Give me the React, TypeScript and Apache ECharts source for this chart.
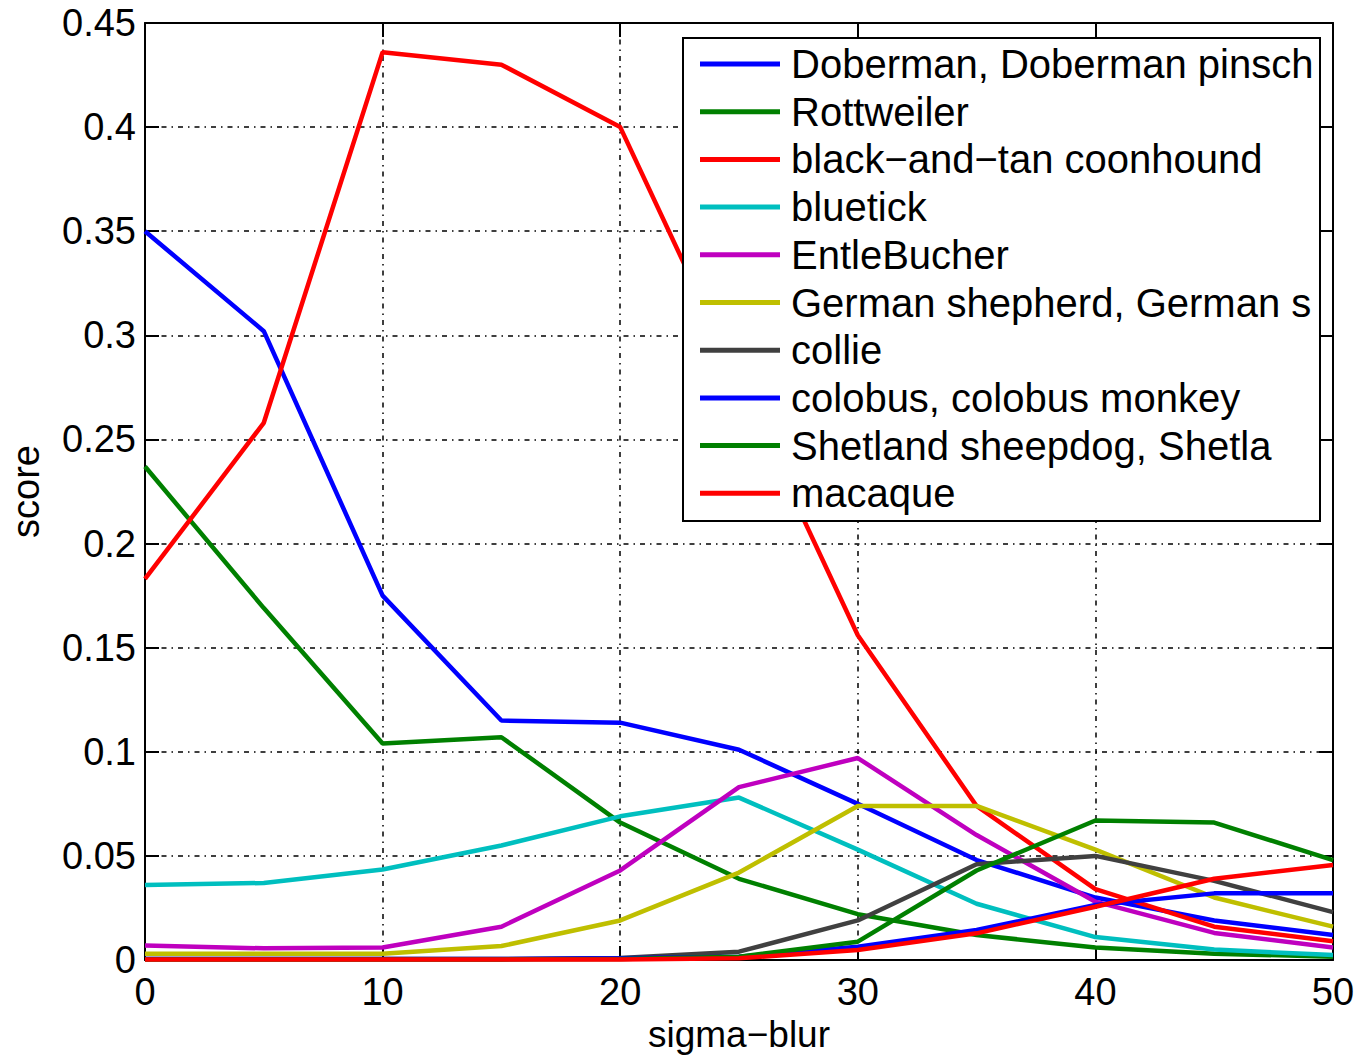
import React, { useEffect, useRef } from "react";
import * as echarts from "echarts";

const xValues = [0, 5, 10, 15, 20, 25, 30, 35, 40, 45, 50];

const seriesNames = [
  "Doberman, Doberman pinsch",
  "Rottweiler",
  "black\u2212and\u2212tan coonhound",
  "bluetick",
  "EntleBucher",
  "German shepherd, German s",
  "collie",
  "colobus, colobus monkey",
  "Shetland sheepdog, Shetla",
  "macaque",
];

const doberman = [0.350, 0.302, 0.175, 0.115, 0.114, 0.101, 0.075, 0.048, 0.030, 0.019, 0.012];
const rottweiler = [0.237, 0.169, 0.104, 0.107, 0.066, 0.039, 0.022, 0.012, 0.006, 0.003, 0.0016];
const coonhound = [0.183, 0.258, 0.436, 0.430, 0.400, 0.278, 0.156, 0.074, 0.034, 0.016, 0.009];
const bluetick = [0.036, 0.037, 0.0435, 0.055, 0.069, 0.078, 0.053, 0.027, 0.011, 0.005, 0.0024];
const entlebucher = [0.007, 0.0056, 0.006, 0.016, 0.043, 0.083, 0.097, 0.060, 0.028, 0.013, 0.006];
const germanShepherd = [0.003, 0.003, 0.003, 0.0067, 0.019, 0.042, 0.074, 0.074, 0.053, 0.030, 0.016];
const collie = [0.0005, 0.0005, 0.0005, 0.0005, 0.001, 0.004, 0.019, 0.046, 0.050, 0.038, 0.023];
const colobus = [0.0005, 0.0005, 0.0005, 0.0005, 0.0008, 0.0016, 0.0064, 0.0144, 0.0264, 0.032, 0.032];
const shetland = [0.0003, 0.0003, 0.0003, 0.0003, 0.0005, 0.0016, 0.0088, 0.043, 0.067, 0.066, 0.048];
const macaque = [0.0002, 0.0002, 0.0002, 0.0002, 0.0003, 0.0008, 0.0048, 0.0128, 0.0256, 0.039, 0.0456];

const allValues = [doberman, rottweiler, coonhound, bluetick, entlebucher, germanShepherd, collie, colobus, shetland, macaque];

const colors = ["#0000ff", "#008000", "#ff0000", "#00bfbf", "#bf00bf", "#bfbf00", "#404040", "#0000ff", "#008000", "#ff0000"];

const yTicks = [0, 0.05, 0.1, 0.15, 0.2, 0.25, 0.3, 0.35, 0.4, 0.45];

const FONT = "'Liberation Sans', Arial, Helvetica, sans-serif";

export default function App() {
  const ref = useRef<HTMLDivElement>(null);
  useEffect(() => {
    document.body.style.margin = "0";
    const chart = echarts.init(ref.current!, null, { renderer: "svg" });
    const gridDash = { type: [5, 5, 1.5, 5] as any, color: "#000", width: 1.5 };
    const option: any = {
      animation: false,
      backgroundColor: "#fff",
      textStyle: { fontFamily: FONT },
      grid: { left: 145, right: 29, top: 23, bottom: 95, containLabel: false, outerBoundsMode: "none" },
      legend: {
        left: 700,
        top: 44,
        z: 10,
        orient: "vertical",
        icon: "rect",
        itemWidth: 80,
        itemHeight: 5,
        itemGap: 7.7,
        padding: 0,
        selectedMode: false,
        data: seriesNames,
        textStyle: { fontSize: 40, lineHeight: 40, color: "#000", fontFamily: FONT, padding: [0, 0, 0, 6] },
      },
      graphic: [
        {
          type: "rect",
          z: 8,
          shape: { x: 683, y: 38, width: 637, height: 483 },
          style: { fill: "#fff", stroke: "#000", lineWidth: 2 },
          silent: true,
        },
      ],
      xAxis: [
        {
          type: "value",
          position: "bottom",
          min: 0,
          max: 50,
          interval: 10,
          name: "sigma\u2212blur",
          nameLocation: "middle",
          nameGap: 43,
          nameTextStyle: { fontSize: 37, color: "#000", fontFamily: FONT },
          axisLine: { show: true, lineStyle: { color: "#000", width: 2 } },
          axisTick: { show: true, inside: true, length: 14, lineStyle: { color: "#000", width: 2 } },
          axisLabel: { fontSize: 38, color: "#000", margin: 13, fontFamily: FONT },
          splitLine: { show: true, lineStyle: gridDash },
        },
        {
          type: "value",
          position: "top",
          min: 0,
          max: 50,
          interval: 10,
          axisLine: { show: true, onZero: false, lineStyle: { color: "#000", width: 2 } },
          axisTick: { show: true, inside: true, length: 14, lineStyle: { color: "#000", width: 2 } },
          axisLabel: { show: false },
          splitLine: { show: false },
        },
      ],
      yAxis: [
        {
          type: "value",
          position: "left",
          min: 0,
          max: 0.45,
          interval: 0.05,
          name: "score",
          nameLocation: "middle",
          nameGap: 100,
          nameTextStyle: { fontSize: 38, color: "#000", fontFamily: FONT },
          axisLine: { show: true, onZero: false, lineStyle: { color: "#000", width: 2 } },
          axisTick: { show: true, inside: true, length: 14, lineStyle: { color: "#000", width: 2 } },
          axisLabel: {
            fontSize: 38,
            color: "#000",
            margin: 9,
            fontFamily: FONT,
            formatter: (v: number) => {
              const t = yTicks.find((k) => Math.abs(k - v) < 1e-9);
              return t === undefined ? "" : String(parseFloat(t.toFixed(2)));
            },
          },
          splitLine: { show: true, lineStyle: gridDash },
        },
        {
          type: "value",
          position: "right",
          min: 0,
          max: 0.45,
          interval: 0.05,
          axisLine: { show: true, onZero: false, lineStyle: { color: "#000", width: 2 } },
          axisTick: { show: true, inside: true, length: 14, lineStyle: { color: "#000", width: 2 } },
          axisLabel: { show: false },
          splitLine: { show: false },
        },
      ],
      series: seriesNames.map((name, i) => ({
        name,
        type: "line",
        xAxisIndex: 0,
        yAxisIndex: 0,
        showSymbol: false,
        symbol: "none",
        clip: false,
        z: 2,
        color: colors[i],
        lineStyle: { color: colors[i], width: 4.5 },
        itemStyle: { color: colors[i] },
        data: xValues.map((x, j) => [x, allValues[i][j]]),
      })),
    };
    chart.setOption(option);
    return () => chart.dispose();
  }, []);
  return <div ref={ref} style={{ width: 1362, height: 1055 }} />;
}
